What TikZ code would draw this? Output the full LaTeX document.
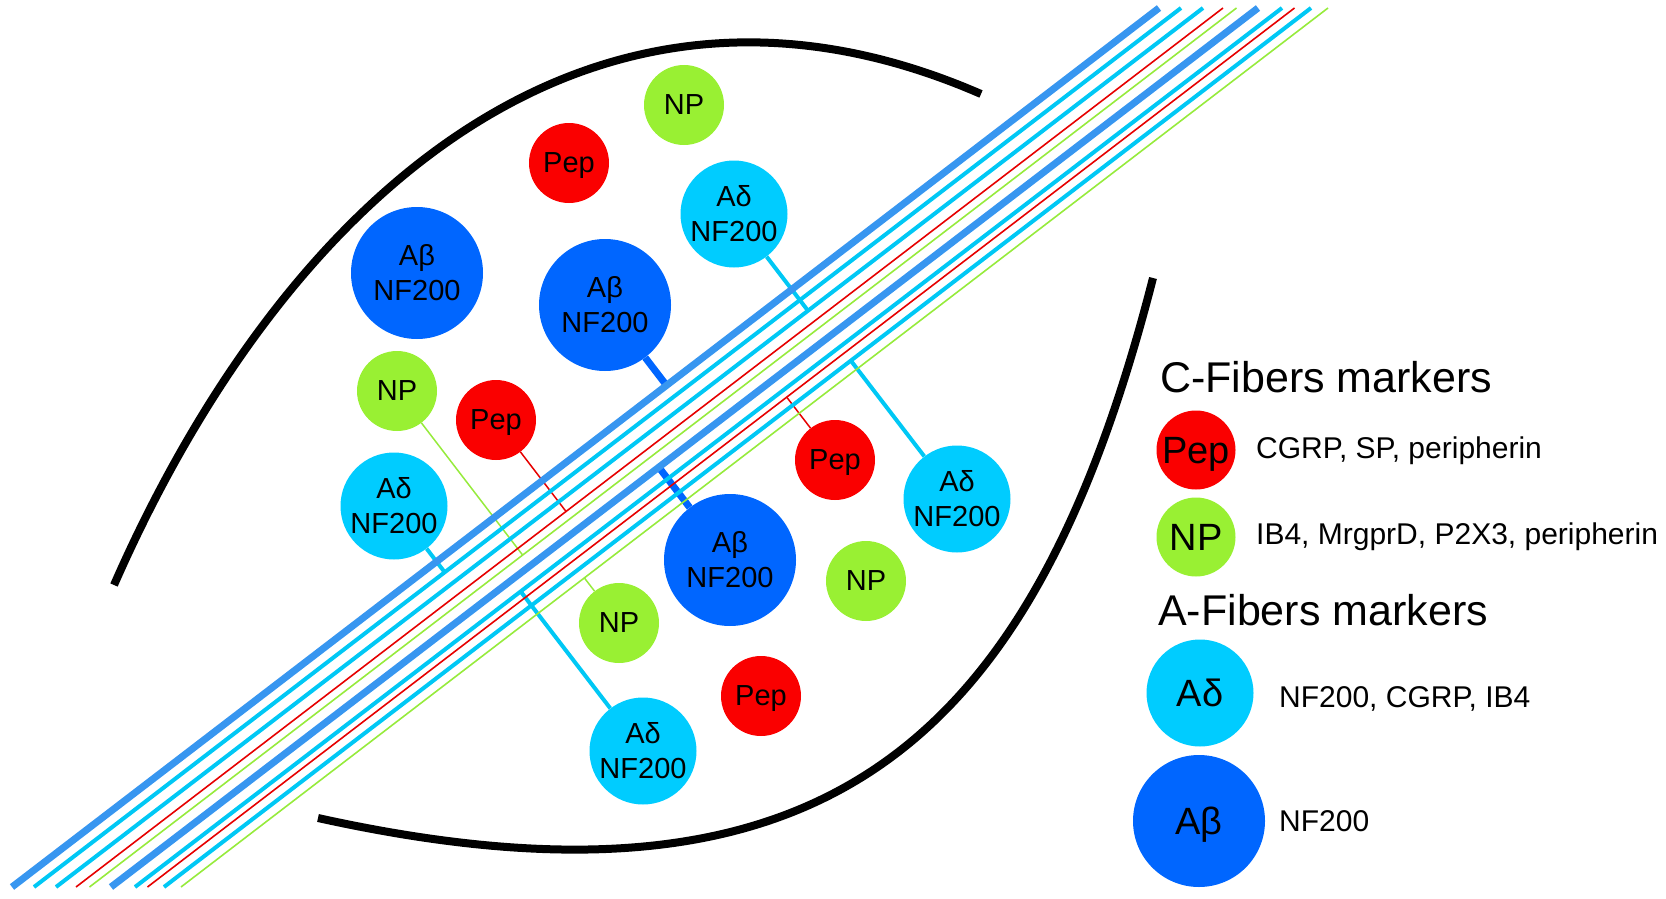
\documentclass[tikz,border=0pt]{standalone}
\usepackage{fontspec}
\setmainfont{Liberation Sans}
\usetikzlibrary{calc}
\definecolor{abeta}{RGB}{0,102,255}
\definecolor{adelta}{RGB}{0,204,255}
\definecolor{pepred}{RGB}{250,0,0}
\definecolor{npgreen}{RGB}{153,240,51}
\definecolor{fibblue}{RGB}{55,150,240}
\definecolor{fibcyan}{RGB}{0,200,245}
\definecolor{fibred}{RGB}{230,0,0}
\definecolor{fibgreen}{RGB}{150,235,60}
\begin{document}
\begin{tikzpicture}[x=1pt,y=-1pt,
  cell/.style={circle,inner sep=0pt,text=black,align=center,font=\fontsize{29}{35}\selectfont},
  pep/.style={cell,fill=pepred,minimum size=80pt,text depth=0pt},
  np/.style={cell,fill=npgreen,minimum size=80pt,text depth=0pt},
  ad/.style={cell,fill=adelta,minimum size=107pt},
  ab/.style={cell,fill=abeta,minimum size=132pt},
  legbig/.style={font=\fontsize{38}{40}\selectfont,text depth=0pt},
  title/.style={anchor=base west,inner sep=0pt,font=\fontsize{43}{45}\selectfont},
  desc/.style={anchor=base west,inner sep=0pt,font=\fontsize{30}{32}\selectfont},
  fthick/.style={draw=fibblue,line width=7pt},
  fcyan/.style={draw=fibcyan,line width=4pt},
  fred/.style={draw=fibred,line width=1.6pt},
  fgreen/.style={draw=fibgreen,line width=1.6pt},
  cab/.style={draw=abeta,line width=7pt},
  cad/.style={draw=fibcyan,line width=4pt},
  cpep/.style={draw=fibred,line width=1.5pt},
  cnp/.style={draw=fibgreen,line width=1.5pt},
  rim/.style={draw=black,line width=8pt}
]
\useasboundingbox (0,0) rectangle (1666,899);

% outline arcs
\draw[rim] (114,585) .. controls (285,196) and (591,-76) .. (981,94);
\draw[rim] (1153,278) .. controls (1034,743) and (826,930) .. (318,818);

% fiber end points
\foreach \n/\xb in {1/12,2/34,3/56,4/76,5/89.5,6/111,7/135,8/147.5,9/164,10/181}{
  \coordinate (f\n b) at (\xb,887);
  \coordinate (f\n t) at (\xb+1147,8);
}

% cells
\node[np] (npT) at (684,105) {NP};
\node[pep] (pepT) at (569,163) {Pep};
\node[ad] (adT) at (734,214) {Aδ\\NF200};
\node[ab] (abL) at (417,273) {Aβ\\NF200};
\node[ab] (abM) at (605,305) {Aβ\\NF200};
\node[np] (npL) at (397,391) {NP};
\node[pep] (pepL) at (496,420) {Pep};
\node[ad] (adL) at (394,506) {Aδ\\NF200};
\node[pep] (pepR) at (835,460) {Pep};
\node[ad] (adR) at (957,499) {Aδ\\NF200};
\node[ab] (abB) at (730,560) {Aβ\\NF200};
\node[np] (npR) at (866,581) {NP};
\node[np] (npB) at (619,623) {NP};
\node[pep] (pepB) at (761,696) {Pep};
\node[ad] (adB) at (643,751) {Aδ\\NF200};

% connectors
\draw[cad] (adT) -- ($(f3b)!(adT)!(f3t)$);
\draw[cab] (abM) -- ($(f1b)!(abM)!(f1t)$);
\draw[cnp] (npL) -- ($(f5b)!(npL)!(f5t)$);
\draw[cpep] (pepL) -- ($(f4b)!(pepL)!(f4t)$);
\draw[cad] (adL) -- ($(f2b)!(adL)!(f2t)$);
\draw[cab] (abB) -- ($(f6b)!(abB)!(f6t)$);
\draw[cpep] (pepR) -- ($(f8b)!(pepR)!(f8t)$);
\draw[cad] (adR) -- ($(f9b)!(adR)!(f9t)$);
\draw[cnp] (npB) -- ($(f10b)!(npB)!(f10t)$);
\draw[cad] (adB) -- ($(f7b)!(adB)!(f7t)$);

% fibers
\foreach \n/\st in {1/fthick,2/fcyan,3/fcyan,4/fred,5/fgreen,6/fthick,7/fcyan,8/fred,9/fcyan,10/fgreen}{
  \draw[\st] (f\n b) -- (f\n t);
}

% legend
\node[title] (tC) at (1160,392) {C-Fibers markers};
\node[pep,legbig,minimum size=79pt] (lpep) at (1196,450) {Pep};
\node[desc] (dpep) at (1256,458) {CGRP, SP, peripherin};
\node[np,legbig,minimum size=79pt] (lnp) at (1196,537) {NP};
\node[desc] (dnp) at (1256,544) {IB4, MrgprD, P2X3, peripherin};
\node[title] (tA) at (1158,625) {A-Fibers markers};
\node[ad,legbig,minimum size=107pt] (lad) at (1200,693) {Aδ};
\node[desc] (dad) at (1279,707) {NF200, CGRP, IB4};
\node[ab,legbig,minimum size=132pt] (lab) at (1199,821) {Aβ};
\node[desc] (dab) at (1279,831) {NF200};
\end{tikzpicture}
\end{document}
